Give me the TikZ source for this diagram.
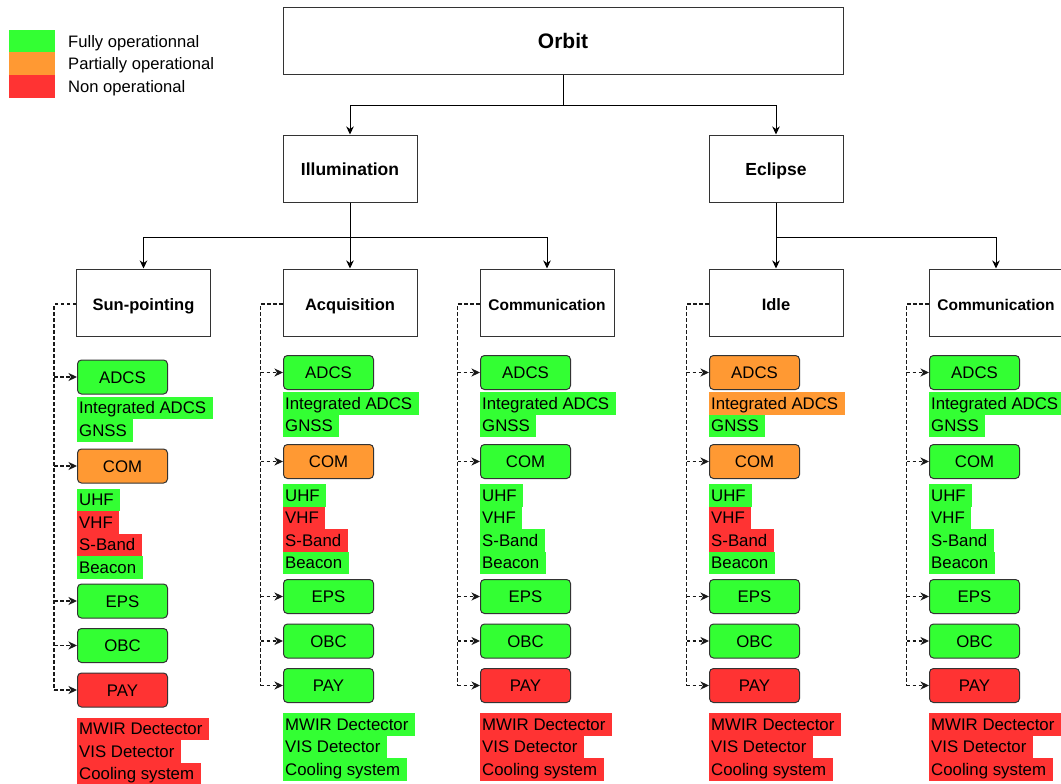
\documentclass[tikz,border=0pt]{standalone}
\usepackage{fontspec}
\setmainfont{Liberation Sans}
\usetikzlibrary{arrows.meta,calc}

\definecolor{fullop}{HTML}{33FF33}
\definecolor{partop}{HTML}{FF9933}
\definecolor{nonop}{HTML}{FF3333}
\definecolor{edgegray}{HTML}{333333}

\tikzset{
  orbitbox/.style={draw=edgegray, fill=white, line width=1pt, minimum width=560pt,
    minimum height=67pt, inner sep=0pt, text height=15pt, text depth=0pt,
    font=\fontsize{21}{24}\selectfont\bfseries},
  modebox/.style={draw=edgegray, fill=white, line width=1pt, minimum width=134pt,
    minimum height=67pt, inner sep=0pt, text height=13.5pt, text depth=0pt,
    font=\fontsize{17.5}{20}\selectfont\bfseries},
  phasebox/.style={modebox, text height=16pt, font=\fontsize{16.5}{19}\selectfont\bfseries},
  subsys/.style={draw=edgegray, line width=1pt, rounded corners=4pt, minimum width=90pt,
    minimum height=34pt, inner sep=0pt, text height=12pt, text depth=0pt,
    font=\fontsize{16.8}{20}\selectfont, anchor=north west},
  partline/.style={inner xsep=0pt, inner ysep=0pt, minimum height=22.5pt, text height=12pt,
    text depth=0pt, font=\fontsize{16.8}{20}\selectfont, anchor=north west,
    execute at begin node=\kern2pt, execute at end node=\kern6.5pt},
  keybox/.style={minimum width=46pt, minimum height=22.7pt, inner sep=0pt},
  keytext/.style={anchor=west, inner sep=0pt, text height=12pt, text depth=0pt,
    font=\fontsize{16.6}{20}\selectfont},
  treearrow/.style={draw=black, line width=1pt, -{Stealth[length=8pt,width=7.5pt,inset=2.5pt]}},
  trunkline/.style={draw=black!90, line width=1.3pt, dash pattern=on 3.5pt off 2.5pt},
  feedarrow/.style={trunkline, -{Stealth[length=8.5pt,width=8pt,inset=2.5pt]}},
}

% One column of subsystems under a mode:
% #1 suffix, #2 left x, #3 top y, #4 mode node, #5 fourteen status colours
\newcommand\subsystems[5]{%
  \foreach \kc [count=\i] in {#5} {%
    \edef\tmpcol{\noexpand\xglobal\noexpand\colorlet{k\i}{\kc}}\tmpcol}
  \node[subsys, fill=k1] (adcs#1) at (#2,#3) {ADCS};
  \node[partline, fill=k2] (int#1) at (#2,#3+37) {Integrated ADCS};
  \node[partline, fill=k3] (gnss#1) at (#2,#3+59.5) {GNSS};
  \node[subsys, fill=k4] (com#1) at (#2,#3+89) {COM};
  \node[partline, fill=k5] (uhf#1) at (#2,#3+129) {UHF};
  \node[partline, fill=k6] (vhf#1) at (#2,#3+151.5) {VHF};
  \node[partline, fill=k7] (sband#1) at (#2,#3+174) {S-Band};
  \node[partline, fill=k8] (beacon#1) at (#2,#3+196.5) {Beacon};
  \node[subsys, fill=k9] (eps#1) at (#2,#3+224) {EPS};
  \node[subsys, fill=k10] (obc#1) at (#2,#3+268.5) {OBC};
  \node[subsys, fill=k11] (pay#1) at (#2,#3+313) {PAY};
  \node[partline, fill=k12] (mwir#1) at (#2,#3+358) {MWIR Dectector};
  \node[partline, fill=k13] (vis#1) at (#2,#3+380.5) {VIS Detector};
  \node[partline, fill=k14] (cool#1) at (#2,#3+403) {Cooling system};
  \coordinate (trunk#1) at ([xshift=-22pt,yshift=-1.5pt]#4.west);
  \draw[trunkline] ([yshift=-1.5pt]#4.west) -- (trunk#1) -- (trunk#1 |- pay#1.west);
  \foreach \m in {adcs,com,eps,obc,pay}
    \draw[feedarrow] (trunk#1 |- \m#1.west) -- (\m#1.west);
}

\begin{document}
\begin{tikzpicture}[x=1pt,y=-1pt]
\useasboundingbox (0,0) rectangle (1061,784);

% legend
\node[keybox, fill=fullop] (kfull) at (32,41.2) {};
\node[keybox, fill=partop] (kpart) at (32,63.8) {};
\node[keybox, fill=nonop]  (knon)  at (32,86.5) {};
\node[keytext] (tfull) at (68,41.2) {Fully operationnal};
\node[keytext] (tpart) at (68,63.8) {Partially operational};
\node[keytext] (tnon)  at (68,86.5) {Non operational};

% orbit phases and modes
\node[orbitbox] (orbit) at (563,41.5) {Orbit};
\node[modebox] (illum) at (350,168.5) {Illumination};
\node[modebox] (eclipse) at (776,168.5) {Eclipse};
\node[phasebox] (sun) at (143.5,302.5) {Sun-pointing};
\node[phasebox] (acq) at (350,302.5) {Acquisition};
\node[phasebox, font=\fontsize{15.5}{18}\selectfont\bfseries] (comm) at (547,302.5) {Communication};
\node[phasebox] (idle) at (776,302.5) {Idle};
\node[phasebox, font=\fontsize{15.5}{18}\selectfont\bfseries] (commb) at (996,302.5) {Communication};

% hierarchy
\draw[treearrow] (orbit.south) -- ++(0,30) -| (illum.north);
\draw[treearrow] (orbit.south) -- ++(0,30) -| (eclipse.north);
\draw[treearrow] (illum.south) -- ++(0,35) -| (sun.north);
\draw[treearrow] (illum.south) -- (acq.north);
\draw[treearrow] (illum.south) -- ++(0,35) -| (comm.north);
\draw[treearrow] (eclipse.south) -- (idle.north);
\draw[treearrow] (eclipse.south) -- ++(0,35) -| (commb.north);

% subsystem status per mode
\subsystems{a}{77}{359.5}{sun}{fullop,fullop,fullop,partop,fullop,nonop,nonop,fullop,fullop,fullop,nonop,nonop,nonop,nonop}
\subsystems{b}{283}{355}{acq}{fullop,fullop,fullop,partop,fullop,nonop,nonop,fullop,fullop,fullop,fullop,fullop,fullop,fullop}
\subsystems{c}{480}{355}{comm}{fullop,fullop,fullop,fullop,fullop,fullop,fullop,fullop,fullop,fullop,nonop,nonop,nonop,nonop}
\subsystems{d}{709}{355}{idle}{partop,partop,fullop,partop,fullop,nonop,nonop,fullop,fullop,fullop,nonop,nonop,nonop,nonop}
\subsystems{e}{929}{355}{commb}{fullop,fullop,fullop,fullop,fullop,fullop,fullop,fullop,fullop,fullop,nonop,nonop,nonop,nonop}
\end{tikzpicture}
\end{document}
